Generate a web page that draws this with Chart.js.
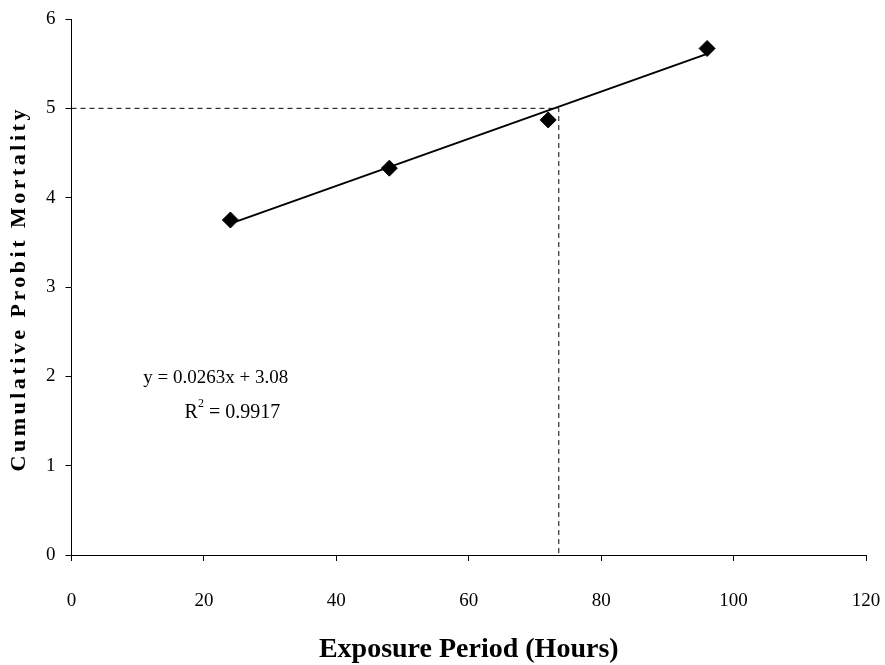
<!DOCTYPE html>
<html>
<head>
<meta charset="utf-8">
<script src="https://cdn.jsdelivr.net/npm/chart.js@4"></script>
<style>
  html, body { margin: 0; padding: 0; background: #fff; }
  #wrap { width: 885px; height: 665px; }
</style>
</head>
<body>
<div id="wrap"><canvas id="chart"></canvas></div>
<script>
// exposure period (hours) and cumulative probit mortality
const hours = [24, 48, 72, 96];
const probit = [3.75, 4.33, 4.87, 5.67];

// linear trend end points
const trendX = [24, 96];
const trendY = [3.71, 5.61];

// LT50 guide (probit 5 at ~73.6 h)
const guideX = [0, 73.6, 73.6];
const guideY = [5, 5, 0];

const xTicks = [0, 20, 40, 60, 80, 100, 120];
const yTicks = [0, 1, 2, 3, 4, 5, 6];

const eqText = 'y = 0.0263x + 3.08';
const r2Text = '0.9917';

const serif = '"Liberation Serif", "DejaVu Serif", serif';

const textPlugin = {
  id: 'textPlugin',
  afterDraw(chart) {
    const ctx = chart.ctx;
    const xs = chart.scales.x, ys = chart.scales.y;
    ctx.save();
    ctx.fillStyle = '#000';
    ctx.textBaseline = 'middle';
    ctx.textAlign = 'center';
    ctx.font = '19px ' + serif;
    ctx.fillText(eqText, xs.getPixelForValue(21.8), ys.getPixelForValue(1.98));

    // R² line, superscript drawn by hand
    const cx = xs.getPixelForValue(24.3), cy = ys.getPixelForValue(1.59);
    const rest = ' = ' + r2Text;
    ctx.font = '20px ' + serif;
    const wR = ctx.measureText('R').width;
    const wRest = ctx.measureText(rest).width;
    ctx.font = '12px ' + serif;
    const w2 = ctx.measureText('2').width;
    let x0 = cx - (wR + w2 + wRest) / 2;
    ctx.textAlign = 'left';
    ctx.font = '20px ' + serif;
    ctx.fillText('R', x0, cy);
    ctx.font = '12px ' + serif;
    ctx.fillText('2', x0 + wR, cy - 9);
    ctx.font = '20px ' + serif;
    ctx.fillText(rest, x0 + wR + w2, cy);

    // y axis title, letter-spaced
    ctx.translate(19, ys.getPixelForValue(2.98));
    ctx.rotate(-Math.PI / 2);
    ctx.font = 'bold 22px ' + serif;
    ctx.letterSpacing = '3.5px';
    ctx.textAlign = 'center';
    ctx.fillText('Cumulative Probit Mortality', 0, 0);
    ctx.restore();
  }
};

new Chart(document.getElementById('chart'), {
  type: 'scatter',
  data: {
    datasets: [
      {
        label: 'guide',
        data: guideX.map((x, i) => ({ x: x, y: guideY[i] })),
        showLine: true,
        borderColor: '#000',
        borderWidth: 1,
        borderDash: [5, 4],
        pointRadius: 0
      },
      {
        label: 'trend',
        data: trendX.map((x, i) => ({ x: x, y: trendY[i] })),
        showLine: true,
        borderColor: '#000',
        borderWidth: 2,
        pointRadius: 0
      },
      {
        label: 'observed',
        data: hours.map((x, i) => ({ x: x, y: probit[i] })),
        pointStyle: 'rectRot',
        pointRadius: 8,
        backgroundColor: '#000',
        borderColor: '#000',
        borderWidth: 1
      }
    ]
  },
  options: {
    responsive: true,
    maintainAspectRatio: false,
    animation: false,
    layout: { padding: { top: 19, right: 19, left: 0, bottom: 0 } },
    plugins: {
      legend: { display: false },
      tooltip: { enabled: false }
    },
    scales: {
      x: {
        type: 'linear',
        min: 0,
        max: 120,
        afterBuildTicks: s => { s.ticks = xTicks.map(v => ({ value: v })); },
        afterFit: s => { s.height = 110; s.paddingLeft = 0; s.paddingRight = 0; },
        border: { color: '#000', width: 1 },
        grid: { drawOnChartArea: false, color: '#000', tickLength: 6 },
        ticks: { color: '#000', padding: 29, font: { family: serif, size: 19 } },
        title: {
          display: true,
          text: 'Exposure Period (Hours)',
          color: '#000',
          font: { family: serif, size: 28, weight: 'bold' },
          padding: { top: 4, bottom: -2 }
        }
      },
      y: {
        min: 0,
        max: 6,
        afterBuildTicks: s => { s.ticks = yTicks.map(v => ({ value: v })); },
        afterFit: s => { s.width = 71.5; s.paddingTop = 0; s.paddingBottom = 0; },
        border: { color: '#000', width: 1 },
        grid: { drawOnChartArea: false, color: '#000', tickLength: 6 },
        ticks: { color: '#000', padding: 10, font: { family: serif, size: 19 } }
      }
    }
  },
  plugins: [textPlugin]
});
</script>
</body>
</html>
